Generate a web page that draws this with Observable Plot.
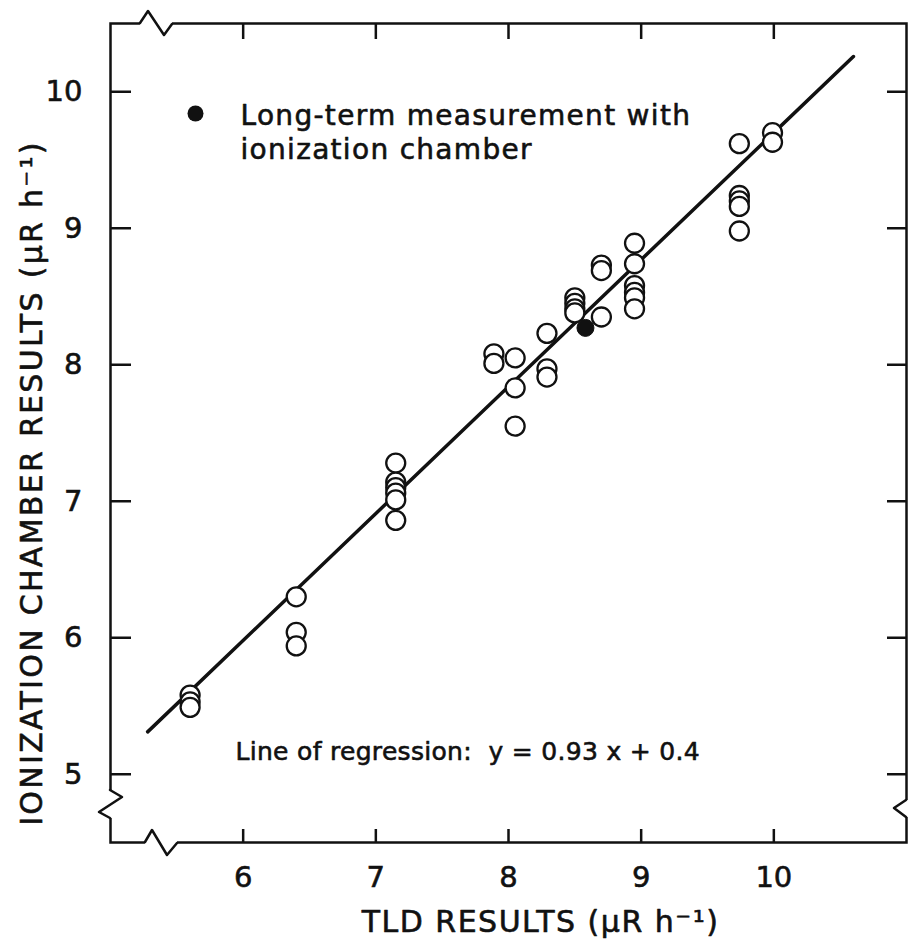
<!DOCTYPE html>
<html>
<head>
<meta charset="utf-8">
<script src="https://cdn.jsdelivr.net/npm/d3@7"></script>
<script src="https://cdn.jsdelivr.net/npm/@observablehq/plot@0.6"></script>
<style>
  html, body { margin: 0; padding: 0; background: #fff; }
  #chart svg { display: block; }
</style>
</head>
<body>
<div id="chart"></div>
<script>
// ---- data ----
const tldOpen = [5.6,5.6,5.6, 6.4,6.4,6.4, 7.15,7.15,7.15,7.15,7.15,7.15, 7.89,7.89,
  8.05,8.05,8.05, 8.29,8.29,8.29, 8.5,8.5,8.5,8.5, 8.7,8.7,8.7,
  8.95,8.95,8.95,8.95,8.95,8.95, 9.74,9.74,9.74,9.74,9.74, 9.99,9.99];
const ionOpen = [5.58,5.53,5.49, 6.30,6.04,5.94, 7.28,7.14,7.10,7.06,7.01,6.86, 8.08,8.01,
  8.05,7.83,7.55, 8.23,7.97,7.91, 8.49,8.45,8.41,8.38, 8.73,8.69,8.35,
  8.89,8.74,8.58,8.53,8.49,8.41, 9.62,9.24,9.20,9.16,8.98, 9.70,9.63];
const tldFilled = [8.58];
const ionFilled = [8.27];
const slope = 0.93, intercept = 0.4;           // "Line of regression: y = 0.93 x + 0.4"
const lineX = [5.28, 10.6];                     // extent of drawn regression line
const xTicks = [6, 7, 8, 9, 10];
const yTicks = [5, 6, 7, 8, 9, 10];
const xTitle = "TLD RESULTS (µR h⁻¹)";
const yTitle = "IONIZATION CHAMBER RESULTS (µR h⁻¹)";
const legend1 = "Long-term measurement with";
const legend2 = "ionization chamber";
const regText = "Line of regression:  y = 0.93 x + 0.4";

const openPts = tldOpen.map((x, i) => ({x, y: ionOpen[i]}));
const filledPts = tldFilled.map((x, i) => ({x, y: ionFilled[i]}));
const regPts = lineX.map(x => ({x, y: slope * x + intercept}));

const FONT = "DejaVu Sans";
const INK = "#111";

// axis-break zigzags drawn relative to the frame (pixel offsets)
function breaks(index, scales, values, dims) {
  const l = dims.marginLeft, t = dims.marginTop;
  const r = dims.width - dims.marginRight, b = dims.height - dims.marginBottom;
  const zigs = [
    [[l+30,t],[l+38,t-12],[l+54,t+12],[l+62,t+1]],
    [[l+35,b],[l+42,b-12],[l+57,b+13],[l+67,b+1]],
    [[l,b-52],[l+12,b-45],[l-11,b-30],[l,b-24]],
    [[r,b-42],[r-12,b-34],[r,b-25]]
  ];
  const g = d3.create("svg:g");
  for (const z of zigs) {
    g.append("line")
      .attr("x1", z[0][0]).attr("y1", z[0][1])
      .attr("x2", z[z.length-1][0]).attr("y2", z[z.length-1][1])
      .attr("stroke", "white").attr("stroke-width", 6);
    g.append("path")
      .attr("d", d3.line()(z))
      .attr("fill", "none").attr("stroke", INK)
      .attr("stroke-width", 2.5).attr("stroke-linejoin", "round").attr("stroke-linecap", "round");
  }
  return g.node();
}

const txt = {fill: INK, stroke: INK, strokeWidth: 0.6};

const chart = Plot.plot({
  width: 909,
  height: 939,
  marginLeft: 110,
  marginRight: 3,
  marginTop: 23,
  marginBottom: 97,
  style: {fontFamily: FONT, color: INK, background: "white"},
  x: {domain: [5, 11]},
  y: {domain: [4.5, 10.5]},
  marks: [
    Plot.frame({stroke: INK, strokeWidth: 2.5}),
    Plot.axisX({anchor: "bottom", ticks: xTicks, tickFormat: d3.format("d"), tickSize: -13, tickPadding: 37, strokeWidth: 2.5, fontSize: 29, label: null}),
    Plot.axisX({anchor: "top", ticks: xTicks, tickSize: -15, strokeWidth: 2.5, fill: "none", label: null}),
    Plot.axisY({anchor: "left", ticks: yTicks, tickFormat: d3.format("d"), tickSize: -21, tickPadding: 49, strokeWidth: 2.5, fontSize: 29, label: null}),
    Plot.axisY({anchor: "right", ticks: yTicks, tickSize: -20, strokeWidth: 2.5, fill: "none", label: null}),
    breaks,
    Plot.line(regPts, {x: "x", y: "y", stroke: INK, strokeWidth: 3.5, strokeLinecap: "round"}),
    Plot.dot(openPts, {x: "x", y: "y", r: 9.5, fill: "white", stroke: INK, strokeWidth: 2.3}),
    Plot.dot(filledPts, {x: "x", y: "y", r: 8.5, fill: INK, stroke: INK, strokeWidth: 1}),
    // legend
    Plot.dot([0], {frameAnchor: "top-left", dx: 85, dy: 90, r: 8, fill: INK}),
    Plot.text([legend1], {frameAnchor: "top-left", dx: 130, dy: 93, text: d => d, textAnchor: "start", lineAnchor: "middle", fontSize: 28, ...txt}),
    Plot.text([legend2], {frameAnchor: "top-left", dx: 130, dy: 127, text: d => d, textAnchor: "start", lineAnchor: "middle", fontSize: 28, ...txt}),
    // regression annotation
    Plot.text([regText], {frameAnchor: "bottom-left", dx: 125, dy: -91, text: d => d, textAnchor: "start", lineAnchor: "middle", fontSize: 25, ...txt}),
    // axis titles
    Plot.text([xTitle], {frameAnchor: "bottom", dx: 32, dy: 80, text: d => d, textAnchor: "middle", lineAnchor: "middle", fontSize: 30, ...txt}),
    Plot.text([yTitle], {frameAnchor: "left", dx: -78, dy: 50, rotate: -90, text: d => d, textAnchor: "middle", lineAnchor: "middle", fontSize: 30, ...txt})
  ]
});
// letter spacing to mimic the wide plotter lettering
d3.select(chart).selectAll("text").each(function() {
  const s = this.textContent;
  if (s === legend1 || s === legend2) this.setAttribute("letter-spacing", "1.3");
  if (s === xTitle) this.setAttribute("letter-spacing", "1.5");
  if (s === yTitle) this.setAttribute("letter-spacing", "2.3");
  if (s === regText) this.setAttribute("letter-spacing", "0.3");
});
d3.select(chart).selectAll("g[aria-label='y-axis tick label'] text, g[aria-label='x-axis tick label'] text")
  .attr("stroke", INK).attr("stroke-width", 0.6);
document.getElementById("chart").appendChild(chart);
</script>
</body>
</html>
